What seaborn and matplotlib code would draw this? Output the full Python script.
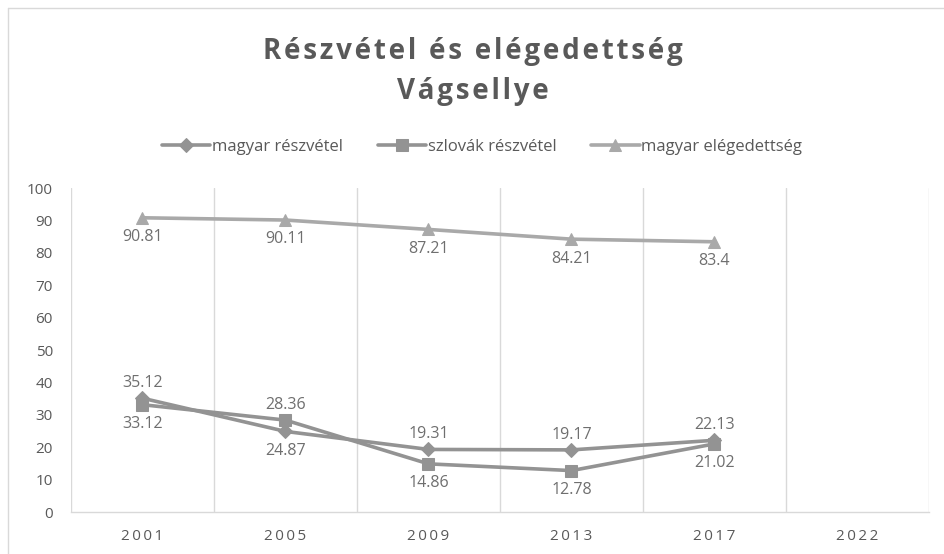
import matplotlib
matplotlib.use("Agg")
import matplotlib.pyplot as plt
import numpy as np
import pandas as pd
import seaborn as sns

YEARS = ["2001", "2005", "2009", "2013", "2017", "2022"]
SERIES = ["magyar részvétel", "szlovák részvétel", "magyar elégedettség"]
MAGYAR_RESZVETEL = [35.12, 24.87, 19.31, 19.17, 22.13]
SZLOVAK_RESZVETEL = [33.12, 28.36, 14.86, 12.78, 21.02]
MAGYAR_ELEGEDETTSEG = [90.81, 90.11, 87.21, 84.21, 83.4]
# where each data label sits relative to its point
LABEL_POS = [
    ["above", "below", "above", "above", "above"],
    ["below", "above", "below", "below", "below"],
    ["below", "below", "below", "below", "below"],
]

COLORS = ["#939393", "#939393", "#a9a9a9"]
MARKERS = ["D", "s", "^"]
MARKER_SIZES = [7, 9, 9]
TEXT = "#595959"
LABEL = "#6f6f6f"
GRID = "#d9d9d9"


def spaced(s, sep="\u2009"):
    # crude letter spacing, the original uses spaced-out glyphs
    return sep.join(s)


sns.set_theme(style="white")
plt.rcParams["font.family"] = ["Open Sans", "DejaVu Sans"]

values = [MAGYAR_RESZVETEL, SZLOVAK_RESZVETEL, MAGYAR_ELEGEDETTSEG]
rows = []
for name, vals in zip(SERIES, values):
    for i, v in enumerate(vals):
        rows.append({"series": name, "pos": i, "value": v})
df = pd.DataFrame(rows)

fig = plt.figure(figsize=(9.45, 5.54), dpi=100)
ax = fig.add_axes([71 / 945, 1 - 512 / 554, (929 - 71) / 945, (512 - 188) / 554])

for k, name in enumerate(SERIES):
    sub = df[df["series"] == name]
    sns.lineplot(data=sub, x="pos", y="value", ax=ax, color=COLORS[k],
                 linewidth=2.6, marker=MARKERS[k], markersize=MARKER_SIZES[k],
                 markeredgecolor=COLORS[k], label=name, zorder=3 + k)
    for i, v in enumerate(values[k]):
        dy = 11 if LABEL_POS[k][i] == "above" else -14
        ax.annotate(f"{v:g}", (i, v), xytext=(0, dy), textcoords="offset points",
                    ha="center", va="center", fontsize=11.5, color=LABEL, zorder=10)

ax.set_xlim(-0.5, len(YEARS) - 0.5)
ax.set_ylim(0, 100)
ax.set_xticks(range(len(YEARS)))
ax.set_xticklabels([spaced(y) for y in YEARS])
ax.set_yticks(np.arange(0, 101, 10))
ax.set_xlabel("")
ax.set_ylabel("")
ax.tick_params(axis="both", length=0, colors=TEXT, labelsize=11)
ax.tick_params(axis="x", pad=12)
ax.tick_params(axis="y", pad=13)

for b in np.arange(-0.5, len(YEARS), 1.0):
    ax.axvline(b, color=GRID, linewidth=1, zorder=0)
for s in ["top", "right", "left"]:
    ax.spines[s].set_visible(False)
ax.spines["bottom"].set_color(GRID)
ax.spines["bottom"].set_linewidth(1)

handles, labels = ax.get_legend_handles_labels()
ax.legend(handles, labels, loc="center", bbox_to_anchor=(0.51, 1 - 147 / 554),
          bbox_transform=fig.transFigure, ncol=3, frameon=False, fontsize=12,
          labelcolor=TEXT, handlelength=2.9, handletextpad=0.1, columnspacing=2.1,
          borderaxespad=0)

fig.text(0.5, 1 - 52 / 554, spaced("Részvétel és elégedettség", "\u200a"), ha="center",
         va="center", fontsize=20, fontweight="bold", color=TEXT)
fig.text(0.5, 1 - 91 / 554, spaced("Vágsellye", "\u200a"), ha="center", va="center",
         fontsize=20, fontweight="bold", color=TEXT)

# outer chart frame
fig.add_artist(plt.Line2D([8 / 945, 1], [1 - 8 / 554, 1 - 8 / 554], color=GRID, linewidth=1))
fig.add_artist(plt.Line2D([8 / 945, 8 / 945], [0, 1 - 8 / 554], color=GRID, linewidth=1))

fig.savefig("out.png", dpi=100)
